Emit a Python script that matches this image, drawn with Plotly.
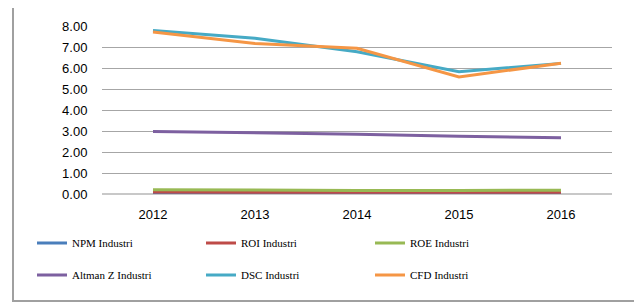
import plotly.graph_objects as go

years = ["2012", "2013", "2014", "2015", "2016"]
npm = [0.05, 0.04, 0.04, 0.04, 0.05]
roi = [0.09, 0.08, 0.08, 0.07, 0.08]
roe = [0.20, 0.17, 0.17, 0.17, 0.18]
altman = [2.98, 2.92, 2.85, 2.75, 2.68]
dsc = [7.78, 7.42, 6.77, 5.82, 6.22]
cfd = [7.71, 7.17, 6.94, 5.57, 6.23]

series = [
    ("NPM Industri", npm, "#4A7EBB", "legend"),
    ("ROI Industri", roi, "#BE4B48", "legend"),
    ("ROE Industri", roe, "#98B954", "legend"),
    ("Altman Z Industri", altman, "#7D60A0", "legend2"),
    ("DSC Industri", dsc, "#46AAC5", "legend2"),
    ("CFD Industri", cfd, "#F59645", "legend2"),
]

fig = go.Figure()
for name, vals, color, lg in series:
    fig.add_trace(go.Scatter(x=years, y=vals, name=name, mode="lines",
                             line=dict(color=color, width=3), legend=lg))

legend_common = dict(orientation="h", entrywidth=124, entrywidthmode="pixels",
                     font=dict(family="Liberation Serif, Times New Roman, serif", size=11, color="#000000"),
                     bgcolor="rgba(0,0,0,0)", xanchor="left", yanchor="middle",
                     itemwidth=30, traceorder="normal")

# page body adds an 8px offset; figure is sized 634x295 so it ends at 642x303
lx = (32 - 102) / 510

fig.update_layout(
    width=634, height=295,
    margin=dict(l=94, r=30, t=18, b=109, autoexpand=False),
    paper_bgcolor="white", plot_bgcolor="white",
    showlegend=True,
    legend=dict(**legend_common, x=lx, y=(194 - 243) / 168),
    legend2=dict(**legend_common, x=lx, y=(194 - 275) / 168),
    xaxis=dict(type="category", range=[-0.5, 4.5], showgrid=False, zeroline=False, showline=False,
               ticks="outside", ticklen=8, tickcolor="rgba(0,0,0,0)",
               tickfont=dict(family="Liberation Sans, Arial, sans-serif", size=13, color="#000000")),
    yaxis=dict(range=[0, 8], tickvals=[0, 1, 2, 3, 4, 5, 6, 7, 8], tickformat=".2f",
               showgrid=True, gridcolor="#A6A6A6", gridwidth=1,
               zeroline=True, zerolinecolor="#C8C8C8", zerolinewidth=2,
               showline=False, ticks="outside", ticklen=11, tickcolor="rgba(0,0,0,0)",
               tickfont=dict(family="Liberation Sans, Arial, sans-serif", size=13, color="#000000")),
    shapes=[dict(type="rect", xref="paper", yref="paper",
                 x0=(13 - 102) / 510, x1=(635 - 102) / 510,
                 y0=(194 - 301) / 168, y1=(194 - 4) / 168,
                 line=dict(color="#A0A0A0", width=2), fillcolor="rgba(0,0,0,0)", layer="below")],
)

fig.write_html("out.html")
